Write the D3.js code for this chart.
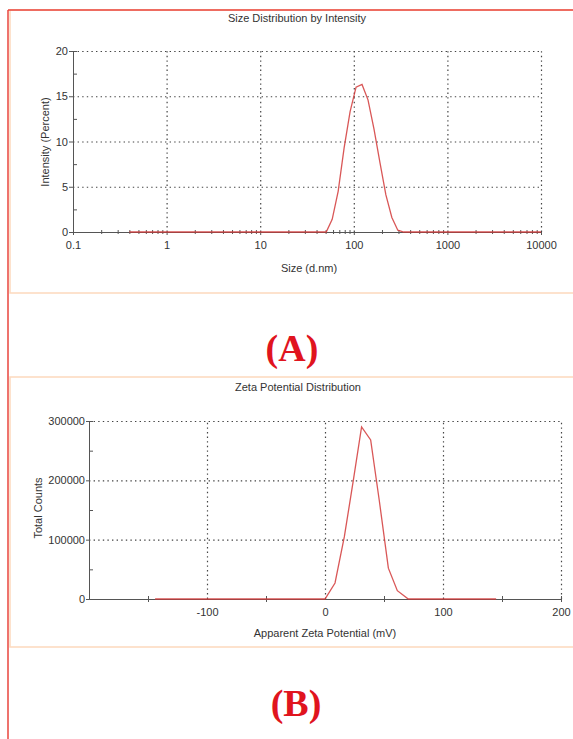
<!DOCTYPE html>
<html>
<head>
<meta charset="utf-8">
<script src="https://cdn.jsdelivr.net/npm/d3@7"></script>
<style>
body { margin: 0; background: #fff; }
text { font-family: "Liberation Sans", Arial, sans-serif; fill: #333; }
.grid line { stroke: #444; stroke-width: 1.2; stroke-dasharray: 1.4, 3.2; }
.grid .domain { display: none; }
.axis path, .axis line { stroke: #555; }
</style>
</head>
<body>
<div id="chart"></div>
<script>
// (A) size distribution by intensity
var sizeNm = [0.4, 43.82, 50.75, 58.77, 68.06, 78.82, 91.28, 105.7, 122.4, 141.8, 164.2, 190.1, 220.2, 255.0, 295.3, 342.0, 10000];
var intensity = [0, 0, 0, 1.4, 4.5, 9.3, 13.3, 16.0, 16.3, 14.6, 11.4, 7.7, 4.1, 1.6, 0.2, 0, 0];
var sizeTicks = [0.1, 1, 10, 100, 1000, 10000];
var sizeTickLabels = ["0.1", "1", "10", "100", "1000", "10000"];
var intensityTicks = [0, 5, 10, 15, 20];

// (B) zeta potential distribution
var zetaMv = [-144, 0, 8.5, 16.4, 24, 31, 38.7, 46, 53.7, 61.3, 70.6, 145];
var totalCounts = [0, 0, 27000, 105000, 200000, 290000, 268000, 166000, 52000, 14000, 0, 0];
var zetaTicks = [-100, 0, 100, 200];
var zetaMinor = [-150, -50, 50, 150];
var countTicks = [0, 100000, 200000, 300000];

var svgWidth = 573, svgHeight = 739;
var svg = d3.select("#chart").append("svg")
    .attr("width", svgWidth)
    .attr("height", svgHeight);

// frames
svg.append("rect").attr("x", 10).attr("y", 10).attr("width", 570).attr("height", 283)
    .attr("fill", "none").attr("stroke", "#fdd9bd").attr("stroke-width", 1.5);
svg.append("rect").attr("x", 10).attr("y", 377).attr("width", 570).attr("height", 270)
    .attr("fill", "none").attr("stroke", "#fdd9bd").attr("stroke-width", 1.5);
svg.append("line").attr("x1", 8).attr("x2", 573).attr("y1", 10).attr("y2", 10)
    .attr("stroke", "#e8453c").attr("stroke-width", 1.5);
svg.append("line").attr("x1", 8).attr("x2", 8).attr("y1", 10).attr("y2", 739)
    .attr("stroke", "#e8453c").attr("stroke-width", 1.5);

// ---------- panel A ----------
var xA = d3.scaleLog().domain([0.1, 10000]).range([73, 541]);
var yA = d3.scaleLinear().domain([0, 20]).range([232, 51]);

svg.append("g").attr("class", "grid")
    .attr("transform", "translate(0," + yA(0) + ")")
    .call(d3.axisBottom(xA).tickValues(sizeTicks.slice(1)).tickSize(-(yA(0) - yA(20))).tickFormat(""));
svg.append("g").attr("class", "grid")
    .attr("transform", "translate(" + xA(0.1) + ",0)")
    .call(d3.axisLeft(yA).tickValues(intensityTicks.slice(1)).tickSize(-(xA(10000) - xA(0.1))).tickFormat(""));

var minorA = [];
sizeTicks.slice(0, -1).forEach(function(d) {
    for (var k = 2; k <= 9; k++) minorA.push(d * k);
});

svg.append("g").attr("class", "axis")
    .attr("transform", "translate(0," + (yA(0) - 2) + ")")
    .call(d3.axisBottom(xA).tickValues(minorA).tickSize(4).tickFormat(""))
    .call(g => g.select(".domain").remove());
svg.append("g").attr("class", "axis")
    .attr("transform", "translate(0," + yA(0) + ")")
    .call(d3.axisBottom(xA).tickValues(sizeTicks).tickSize(3).tickPadding(6)
        .tickFormat(function(d, i) { return sizeTickLabels[i]; }))
    .call(g => g.selectAll("text").attr("font-size", 11));

svg.append("g").attr("class", "axis")
    .attr("transform", "translate(" + xA(0.1) + ",0)")
    .call(d3.axisRight(yA).tickValues([2.5, 7.5, 12.5, 17.5]).tickSize(4).tickFormat(""));
svg.append("g").attr("class", "axis")
    .attr("transform", "translate(" + xA(0.1) + ",0)")
    .call(d3.axisLeft(yA).tickValues(intensityTicks).tickSize(4).tickPadding(1))
    .call(g => g.selectAll("text").attr("font-size", 11));

var lineA = d3.line()
    .x(function(d, i) { return xA(sizeNm[i]); })
    .y(function(d) { return yA(d); });
svg.append("path")
    .attr("d", lineA(intensity))
    .attr("fill", "none")
    .attr("stroke", "#d23a3a")
    .attr("stroke-opacity", 0.85)
    .attr("stroke-width", 1.3);

svg.append("text").attr("x", 297).attr("y", 22).attr("text-anchor", "middle")
    .attr("font-size", 11).text("Size Distribution by Intensity");
svg.append("text").attr("x", 309).attr("y", 272).attr("text-anchor", "middle")
    .attr("font-size", 11).text("Size (d.nm)");
svg.append("text").attr("transform", "translate(49,142) rotate(-90)").attr("text-anchor", "middle")
    .attr("font-size", 11).text("Intensity (Percent)");

svg.append("text").attr("x", 292).attr("y", 361).attr("text-anchor", "middle")
    .style("font-family", "'Liberation Serif', 'Times New Roman', serif")
    .style("font-weight", "bold").style("fill", "#e0141e")
    .attr("font-size", 38).text("(A)");

// ---------- panel B ----------
var xB = d3.scaleLinear().domain([-200, 200]).range([89, 561]);
var yB = d3.scaleLinear().domain([0, 300000]).range([599, 421]);

svg.append("g").attr("class", "grid")
    .attr("transform", "translate(0," + yB(0) + ")")
    .call(d3.axisBottom(xB).tickValues(zetaTicks).tickSize(-(yB(0) - yB(300000))).tickFormat(""));
svg.append("g").attr("class", "grid")
    .attr("transform", "translate(" + xB(-200) + ",0)")
    .call(d3.axisLeft(yB).tickValues(countTicks.slice(1)).tickSize(-(xB(200) - xB(-200))).tickFormat(""));

svg.append("g").attr("class", "axis")
    .attr("transform", "translate(0," + (yB(0) - 3) + ")")
    .call(d3.axisBottom(xB).tickValues(zetaMinor.concat([200])).tickSize(6).tickFormat(""))
    .call(g => g.select(".domain").remove());
svg.append("g").attr("class", "axis")
    .attr("transform", "translate(0," + yB(0) + ")")
    .call(d3.axisBottom(xB).tickValues(zetaTicks).tickSize(0).tickPadding(9)
        .tickFormat(function(d) { return String(d); }))
    .call(g => g.selectAll("text").attr("font-size", 11));

svg.append("g").attr("class", "axis")
    .attr("transform", "translate(" + xB(-200) + ",0)")
    .call(d3.axisRight(yB).tickValues([50000, 150000, 250000]).tickSize(4).tickFormat(""));
svg.append("g").attr("class", "axis")
    .attr("transform", "translate(" + xB(-200) + ",0)")
    .call(d3.axisLeft(yB).tickValues(countTicks).tickSize(3).tickPadding(1)
        .tickFormat(function(d) { return String(d); }))
    .call(g => g.selectAll("text").attr("font-size", 11));

var lineB = d3.line()
    .x(function(d, i) { return xB(zetaMv[i]); })
    .y(function(d) { return yB(d); });
svg.append("path")
    .attr("d", lineB(totalCounts))
    .attr("fill", "none")
    .attr("stroke", "#d23a3a")
    .attr("stroke-opacity", 0.85)
    .attr("stroke-width", 1.3);

svg.append("text").attr("x", 298).attr("y", 391).attr("text-anchor", "middle")
    .attr("font-size", 11).text("Zeta Potential Distribution");
svg.append("text").attr("x", 325).attr("y", 637).attr("text-anchor", "middle")
    .attr("font-size", 11).text("Apparent Zeta Potential (mV)");
svg.append("text").attr("transform", "translate(42,508) rotate(-90)").attr("text-anchor", "middle")
    .attr("font-size", 11).text("Total Counts");

svg.append("text").attr("x", 296).attr("y", 716).attr("text-anchor", "middle")
    .style("font-family", "'Liberation Serif', 'Times New Roman', serif")
    .style("font-weight", "bold").style("fill", "#e0141e")
    .attr("font-size", 38).text("(B)");
</script>
</body>
</html>
